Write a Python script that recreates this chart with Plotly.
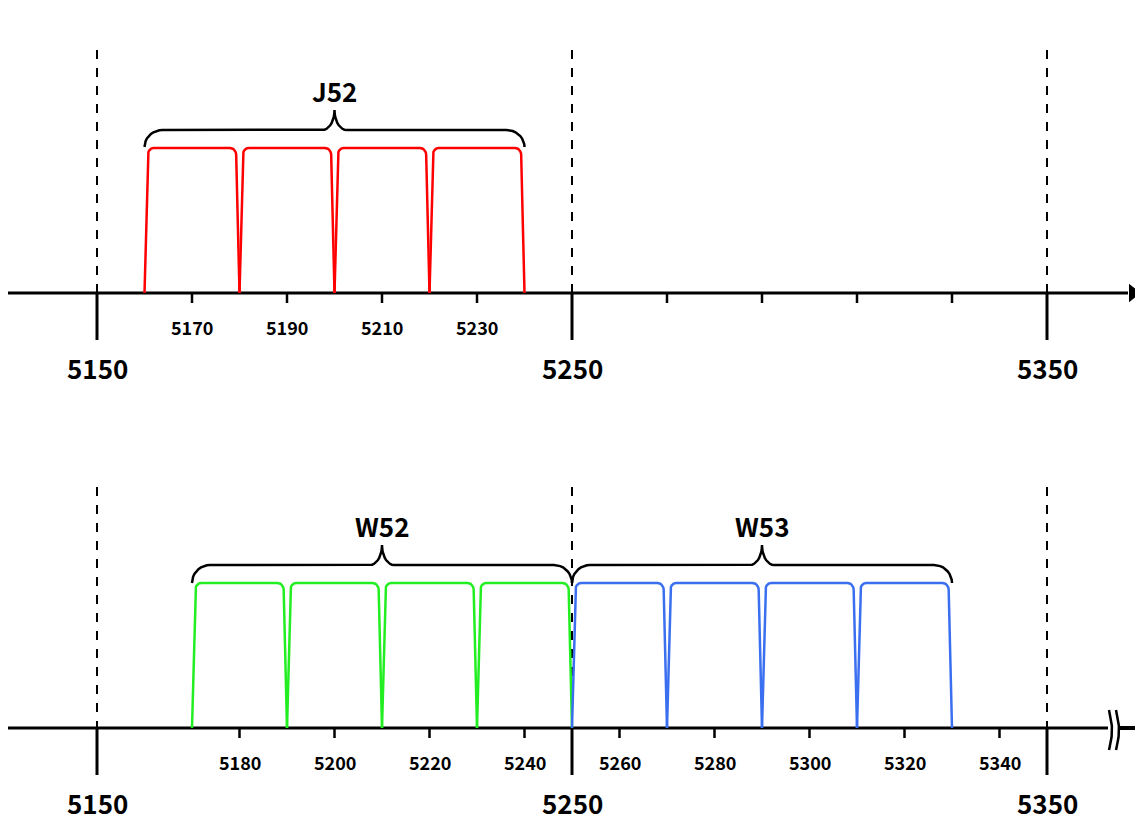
import numpy as np
import plotly.graph_objects as go

# Channel centres (MHz)
j52_channels = [5170, 5190, 5210, 5230]
w52_channels = [5180, 5200, 5220, 5240]
w53_channels = [5260, 5280, 5300, 5320]
major_ticks = [5150, 5250, 5350]
top_minor_ticks = [5170, 5190, 5210, 5230, 5270, 5290, 5310, 5330]
top_minor_labels = ["5170", "5190", "5210", "5230", "", "", "", ""]
bottom_minor_ticks = [5180, 5200, 5220, 5240, 5260, 5280, 5300, 5320, 5340]
band_names = ["J52", "W52", "W53"]
band_ranges = [(5160, 5240), (5170, 5250), (5250, 5330)]

PX = 4.75  # px per MHz
OFF = 8    # page body margin
X0 = 5150 - (97 - OFF) / PX
X1 = X0 + 1143 / PX
FONT = "Noto Sans CJK JP"


def sx(px):
    # screen pixel -> MHz
    return 5150 + (px - 97) / PX


fig = go.Figure()


def line(xs, ys, color="black", width=3, dash="solid"):
    fig.add_trace(go.Scatter(x=list(xs), y=list(ys), mode="lines", hoverinfo="skip",
                             cliponaxis=False,
                             line=dict(color=color, width=width, dash=dash)))


def channel(c, base, h, color):
    rx, ry = 6 / PX, 7
    top = base - h
    xs = [c - 10, c - 9.3]
    ys = [base, top + ry]
    for t in np.linspace(0, np.pi / 2, 8)[1:]:
        xs.append(c - 9.3 + rx * (1 - np.cos(t)))
        ys.append(top + ry * (1 - np.sin(t)))
    xr = [2 * c - x for x in xs[::-1]]
    line(xs + xr, ys + ys[::-1], color=color, width=2.5)


def brace(a, b, y_end, y_bar, y_tip):
    m = (a + b) / 2
    r1, r2 = 18 / PX, 12 / PX
    xs, ys = [], []
    for t in np.linspace(0, np.pi / 2, 10):
        xs.append(a + r1 * (1 - np.cos(t)))
        ys.append(y_end - (y_end - y_bar) * np.sin(t))
    for t in np.linspace(0, np.pi / 2, 10):
        xs.append(m - r2 + r2 * np.sin(t))
        ys.append(y_bar - (y_bar - y_tip) * (1 - np.cos(t)))
    xs2 = [2 * m - x for x in xs[::-1]]
    line(xs + xs2, ys + ys[::-1], width=2.5)


def axis_block(base, minor_ticks, minor_labels, dash_top, solid_bottom, arrow):
    if arrow:
        line([sx(0), sx(1128)], [base, base], width=3)
        fig.add_trace(go.Scatter(x=[sx(1133)], y=[base], mode="markers", hoverinfo="skip",
                                 cliponaxis=False,
                                 marker=dict(symbol="triangle-right", size=16, color="black")))
    else:
        line([sx(0), sx(1108)], [base, base], width=3)
        line([sx(1118), sx(1143)], [base, base], width=4)
    for f in major_ticks:
        line([f, f], [dash_top, base], width=2, dash="dash")
        line([f, f], [base, solid_bottom], width=3)
        fig.add_annotation(x=f, y=solid_bottom + 27, text=f"<b>{f}</b>", showarrow=False,
                           font=dict(family=FONT, size=26, color="black"))
    for f, lab in zip(minor_ticks, minor_labels):
        line([f, f], [base, base + 10], width=2.5)
        if lab:
            fig.add_annotation(x=f, y=base + 34, text=f"<b>{lab}</b>", showarrow=False,
                               font=dict(family=FONT, size=18, color="black"))


# Top panel
axis_block(293, top_minor_ticks, top_minor_labels, 50, 340, True)
for c in j52_channels:
    channel(c, 293, 145, "#ff0000")
# Bottom panel
axis_block(728, bottom_minor_ticks, [str(t) for t in bottom_minor_ticks], 487, 775, False)
for c in w52_channels:
    channel(c, 728, 145, "#22ee22")
for c in w53_channels:
    channel(c, 728, 145, "#3a6ff0")

# Braces and labels
brace_y = [(147, 130, 110), (583, 565, 545), (583, 565, 545)]
for name, (a, b), (ye, yb, yt) in zip(band_names, band_ranges, brace_y):
    brace(a, b, ye, yb, yt)
    fig.add_annotation(x=(a + b) / 2, y=yt - 20, text=f"<b>{name}</b>", showarrow=False,
                       font=dict(family=FONT, size=26, color="black"))

# Axis break symbol
for off in [0, 7]:
    yy = np.linspace(710, 750, 30)
    xx = sx(1109 + off) + (3 / PX) * np.sin((yy - 710) / 40 * np.pi)
    line(xx, yy, width=2.5)

fig.update_layout(width=1143, height=827, margin=dict(l=0, r=0, t=0, b=0),
                  plot_bgcolor="white", paper_bgcolor="white", showlegend=False,
                  xaxis=dict(range=[X0, X1], visible=False, fixedrange=True),
                  yaxis=dict(range=[827 + OFF, OFF], visible=False, fixedrange=True))
fig.write_html("out.html")
